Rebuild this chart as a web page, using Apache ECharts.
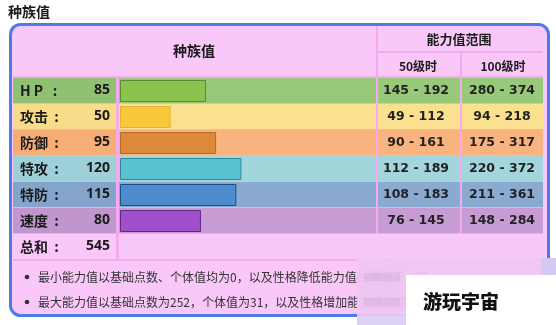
<!DOCTYPE html>
<html><head><meta charset="utf-8">
<script src="https://cdn.jsdelivr.net/npm/echarts@6/dist/echarts.min.js"></script>
<style>html,body{margin:0;padding:0;background:#fff}#c{width:556px;height:325px}</style>
</head><body><div id="c"></div>
<script>
// ---- data ----
const titleText = '种族值';
const headerMain = '种族值';
const headerRange = '能力值范围';
const headerLevels = ['50级时', '100级时'];
const statNames = ['H P   :', '攻击  :', '防御  :', '特攻  :', '特防  :', '速度  :'];
const baseStats = [85, 50, 95, 120, 115, 80];
const range50 = ['145 - 192', '49 - 112', '90 - 161', '112 - 189', '108 - 183', '76 - 145'];
const range100 = ['280 - 374', '94 - 218', '175 - 317', '220 - 372', '211 - 361', '148 - 284'];
const totalLabel = '总和  :';
const totalValue = 545;
const notes = [
  '最小能力值以基础点数、个体值均为0，以及性格降低能力值的情况下计算。',
  '最大能力值以基础点数为252，个体值为31，以及性格增加能力值的情况下计算。'
];
const watermarkText = '游玩宇宙';

// ---- styles ----
const rowBg = ['#98c97a', '#fbe08f', '#f9b37e', '#a3d5dc', '#8aaad0', '#c79cd4'];
const labelBg = ['#90c172', '#f9dc8a', '#f7ad76', '#9dd0d8', '#84a4cc', '#c196cf'];
const barFill = ['#8bc34c', '#f6c83a', '#dc893a', '#5ac3cf', '#4f8bcf', '#a24fcb'];
const barStroke = ['#5b8a3c', '#e3b12f', '#b8692a', '#2f8b97', '#1f4d8a', '#5c2a80'];
const pink = '#f9c8f9';
const sepPink = '#f3aaee';
const blue = '#4a7be6';
const cjk = '"Noto Sans CJK SC", "Noto Sans", sans-serif';

const chart = echarts.init(document.getElementById('c'), null, {renderer: 'canvas'});

const g = [];
function rect(x, y, w, h, fill, extra) {
  g.push(Object.assign({type: 'rect', shape: {x, y, width: w, height: h}, style: {fill}, silent: true}, extra || {}));
}
function text(x, y, t, font, fill, align, extra) {
  g.push(Object.assign({type: 'text', x, y, silent: true,
    style: {text: t, font, fill, align: align || 'left', verticalAlign: 'middle'}}, extra || {}));
}

// title
text(8, 12, titleText, 'bold 14px ' + cjk, '#1a1a1a', 'left');
// outer box background
g.push({type: 'rect', shape: {x: 10.5, y: 24.5, width: 538, height: 291, r: 10}, style: {fill: pink, stroke: blue, lineWidth: 3}, silent: true});
// separators background for the data area
rect(13, 76, 530, 185, sepPink);
// header lines
g.push({type: 'line', shape: {x1: 377, y1: 26, x2: 377, y2: 77}, style: {stroke: sepPink, lineWidth: 2}, silent: true});
g.push({type: 'line', shape: {x1: 378, y1: 52, x2: 543, y2: 52}, style: {stroke: sepPink, lineWidth: 2}, silent: true});
g.push({type: 'line', shape: {x1: 461, y1: 53, x2: 461, y2: 77}, style: {stroke: sepPink, lineWidth: 2}, silent: true});
// header text
text(194, 51, headerMain, 'bold 14px ' + cjk, '#1a1a1a', 'center');
text(459, 39, headerRange, 'bold 13px ' + cjk, '#1a1a1a', 'center');
text(418, 66, headerLevels[0], 'bold 12px ' + cjk, '#1a1a1a', 'center');
text(503, 66, headerLevels[1], 'bold 12px ' + cjk, '#1a1a1a', 'center');

// rows
const rowTop = 78, rowPitch = 26, rowH = 25;
const labelFont = 'bold 14px ' + cjk;
for (let i = 0; i < statNames.length; i++) {
  const y = rowTop + i * rowPitch;
  rect(13, y, 103, rowH, labelBg[i]);
  rect(119, y, 257, rowH, rowBg[i]);
  rect(378, y, 82, rowH, rowBg[i]);
  rect(462, y, 81, rowH, rowBg[i]);
  text(20, y + 12.5, statNames[i], labelFont, '#1a1a1a', 'left');
  text(110, y + 12.5, String(baseStats[i]), 'bold 14px "Noto Sans", sans-serif', '#1a1a1a', 'right');
  text(416, y + 13, range50[i], 'bold 12.5px "DejaVu Sans", sans-serif', '#222', 'center');
  text(502, y + 13, range100[i], 'bold 12.5px "DejaVu Sans", sans-serif', '#222', 'center');
}
// total row
const ty = rowTop + statNames.length * rowPitch;
rect(13, ty, 103, rowH, pink);
rect(119, ty, 424, rowH, pink);
text(20, ty + 12.5, totalLabel, labelFont, '#1a1a1a', 'left');
text(110, ty + 12.5, String(totalValue), 'bold 14px "Noto Sans", sans-serif', '#1a1a1a', 'right');

// notes
notes.forEach((n, i) => {
  const y = 277 + i * 25;
  g.push({type: 'circle', shape: {cx: 27, cy: y, r: 2.3}, style: {fill: '#333'}, silent: true});
  text(38, y, n, '12px ' + cjk, '#333', 'left');
});

// watermark
g.push({type: 'rect', z: 100, shape: {x: 357, y: 258, width: 199, height: 67}, style: {fill: 'rgba(240,200,242,0.95)'}, silent: true});
g.push({type: 'rect', z: 101, shape: {x: 364, y: 273, width: 36, height: 8}, style: {fill: 'rgba(205,170,212,0.35)', shadowBlur: 14, shadowColor: 'rgba(200,165,208,0.6)'}, silent: true});
g.push({type: 'rect', z: 101, shape: {x: 364, y: 298, width: 36, height: 8}, style: {fill: 'rgba(205,170,212,0.35)', shadowBlur: 14, shadowColor: 'rgba(200,165,208,0.6)'}, silent: true});
g.push({type: 'rect', z: 101, shape: {x: 357, y: 316, width: 199, height: 9}, style: {fill: 'rgba(218,210,246,0.8)'}, silent: true});
g.push({type: 'rect', z: 101, shape: {x: 541, y: 258, width: 15, height: 17}, style: {fill: 'rgba(205,200,245,0.8)'}, silent: true});
g.push({type: 'rect', z: 102, shape: {x: 406, y: 275, width: 150, height: 50}, style: {fill: '#ffffff'}, silent: true});
g.push({type: 'text', z: 103, x: 461, y: 302, silent: true,
  style: {text: watermarkText, font: '900 19px ' + cjk, fill: '#111', align: 'center', verticalAlign: 'middle'}});

chart.setOption({
  animation: false,
  backgroundColor: '#ffffff',
  graphic: {elements: g},
  grid: {left: 120, top: 78, width: 258, height: 156, containLabel: false},
  xAxis: {type: 'value', min: 0, max: 255, show: false},
  yAxis: {type: 'category', data: statNames, inverse: true, show: false},
  series: [{
    type: 'bar',
    barWidth: 22,
    z: 5,
    data: baseStats.map((v, i) => ({value: v, itemStyle: {color: barFill[i], borderColor: barStroke[i], borderWidth: 1}})),
    silent: true
  }]
});
</script></body></html>
